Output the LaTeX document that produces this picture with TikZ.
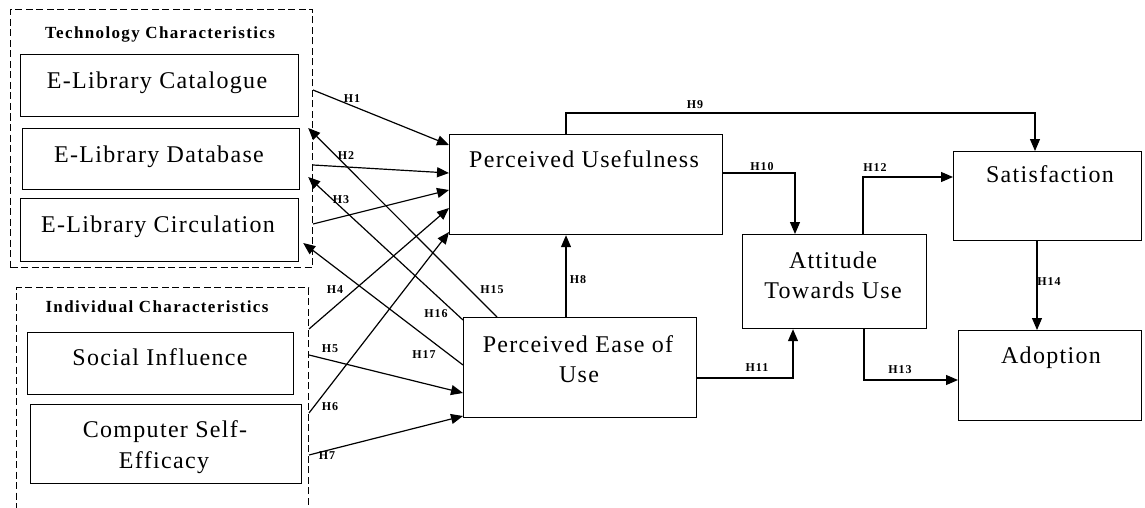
\documentclass[tikz,border=0pt]{standalone}
\usepackage{fontspec}
\newfontfamily\tnr{Liberation Serif}[LetterSpace=5.5]
\newfontfamily\tnrt{Liberation Serif}[LetterSpace=8]
\usetikzlibrary{arrows.meta,calc}
\begin{document}
\begin{tikzpicture}[x=1pt,y=-1pt,
 box/.style={draw, line width=1.2pt, rectangle, inner sep=0pt, anchor=north west},
 grp/.style={draw, line width=1pt, dash pattern=on 7pt off 3.5pt, rectangle, inner sep=0pt, anchor=north west},
 lbl/.style={font=\fontsize{24}{30}\selectfont\tnr, anchor=base, inner sep=0pt},
 ttl/.style={font=\fontsize{17}{20}\selectfont\tnrt\bfseries, anchor=base, inner sep=0pt},
 hl/.style={font=\fontsize{12}{14}\selectfont\tnrt\bfseries, inner sep=0pt},
 arr/.style={line width=1.2pt, -{Triangle[length=12pt,width=10pt]}},
]
\useasboundingbox (0,0) rectangle (1145,508);
% groups
\node[grp, minimum width=302pt, minimum height=258pt] (tech) at (10,9) {};
\node[grp, minimum width=292pt, minimum height=240pt] (indiv) at (16,287) {};
% boxes
\node[box, minimum width=278pt, minimum height=62pt] (cat) at (20,54) {};
\node[box, minimum width=277pt, minimum height=61pt] (db) at (22,128) {};
\node[box, minimum width=278pt, minimum height=63pt] (circ) at (20,198) {};
\node[box, minimum width=266pt, minimum height=62pt] (si) at (27,332) {};
\node[box, minimum width=271pt, minimum height=79pt] (cse) at (30,404) {};
\node[box, minimum width=273pt, minimum height=100pt] (pu) at (449,134) {};
\node[box, minimum width=233pt, minimum height=100pt] (peu) at (463,317) {};
\node[box, minimum width=184pt, minimum height=94pt] (att) at (742,234) {};
\node[box, minimum width=188pt, minimum height=89pt] (sat) at (953,151) {};
\node[box, minimum width=183pt, minimum height=90pt] (adopt) at (958,330) {};
% texts
\node[ttl] (techt) at (160,39) {Technology Characteristics};
\node[lbl] (catt) at (157,89) {E-Library Catalogue};
\node[lbl] (dbt) at (159,162) {E-Library Database};
\node[lbl] (circt) at (158,232) {E-Library Circulation};
\node[ttl] (indivt) at (157,312) {Individual Characteristics};
\node[lbl] (sit) at (160,365) {Social Influence};
\node[lbl] (cset1) at (165,437) {Computer Self-};
\node[lbl] (cset2) at (164,468) {Efficacy};
\node[lbl] (put) at (584,167) {Perceived Usefulness};
\node[lbl] (peut1) at (578,352) {Perceived Ease of};
\node[lbl] (peut2) at (579,382) {Use};
\node[lbl] (attt1) at (833,268) {Attitude};
\node[lbl] (attt2) at (833,298) {Towards Use};
\node[lbl] (satt) at (1050,182) {Satisfaction};
\node[lbl] (adoptt) at (1051,363) {Adoption};
% connectors
\draw[arr] (tech.east |- 0,90) -- (pu.west |- 0,145);
\draw[arr] (tech.east |- 0,165) -- (pu.west |- 0,173);
\draw[arr] (tech.east |- 0,224) -- (pu.west |- 0,190);
\draw[arr] (indiv.east |- 0,329) -- (pu.west |- 0,208);
\draw[arr] (indiv.east |- 0,355) -- (peu.west |- 0,393);
\draw[arr] (indiv.east |- 0,413) -- (pu.west |- 0,232);
\draw[arr] (indiv.east |- 0,455) -- (peu.west |- 0,416);
\draw[arr] (peu.north -| 497,0) -- ($(db.north east)+(8,0)$);
\draw[arr] (peu.west |- 0,320) -- ($(db.east |- 0,177)+(8,0)$);
\draw[arr] (peu.west |- 0,365) -- ($(circ.east |- 0,243)+(4,0)$);
\draw[arr] (peu.north -| 566,0) -- (pu.south -| 566,0);
\draw[arr] (pu.north -| 566,0) -- (566,113) -- (1035,113) -- (sat.north -| 1035,0);
\draw[arr] (pu.east |- 0,173) -| (att.north -| 795,0);
\draw[arr] (peu.east |- 0,378) -| (att.south -| 793,0);
\draw[arr] (att.north -| 863,0) |- (sat.west |- 0,177);
\draw[arr] (att.south -| 864,0) |- (adopt.west |- 0,380);
\draw[arr] (sat.south -| 1037,0) -- (adopt.north -| 1037,0);
% hypothesis labels
\node[hl] (h1) at (352,99) {H1};
\node[hl] (h2) at (346,156) {H2};
\node[hl] (h3) at (341,200) {H3};
\node[hl] (h4) at (335,290) {H4};
\node[hl] (h5) at (330,349) {H5};
\node[hl] (h6) at (330,407) {H6};
\node[hl] (h7) at (327,456) {H7};
\node[hl] (h8) at (578,280) {H8};
\node[hl] (h9) at (695,105) {H9};
\node[hl] (h10) at (762,167) {H10};
\node[hl] (h11) at (757,368) {H11};
\node[hl] (h12) at (875,168) {H12};
\node[hl] (h13) at (900,370) {H13};
\node[hl] (h14) at (1049,282) {H14};
\node[hl] (h15) at (492,290) {H15};
\node[hl] (h16) at (436,314) {H16};
\node[hl] (h17) at (424,355) {H17};
\end{tikzpicture}
\end{document}
